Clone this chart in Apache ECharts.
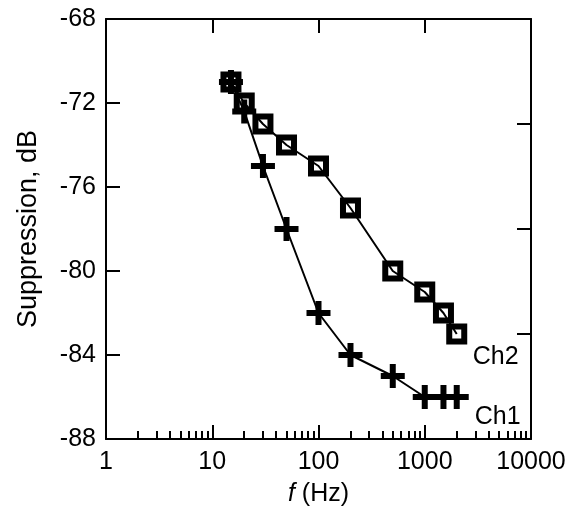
<!DOCTYPE html>
<html>
<head>
<meta charset="utf-8">
<title>Suppression vs frequency</title>
<script src="https://cdn.jsdelivr.net/npm/echarts@6/dist/echarts.min.js"></script>
<style>
  html, body { margin: 0; padding: 0; background: #fff; }
  #chart { width: 576px; height: 512px; }
</style>
</head>
<body>
<div id="chart"></div>
<script>
// 数据
var freqCh1 = [15, 20, 30, 50, 100, 200, 500, 1000, 1500, 2000];
var supCh1  = [-71, -72.4, -75, -78, -82, -84, -85, -86, -86, -86];

var freqCh2 = [15, 20, 30, 50, 100, 200, 500, 1000, 1500, 2000];
var supCh2  = [-71, -72, -73, -74, -75, -77, -80, -81, -82, -83];

// 坐标轴刻度
var xMajorTicks = [1, 10, 100, 1000, 10000];
var xMinorTicks = [2, 3, 4, 5, 6, 7, 8, 9, 20, 30, 40, 50, 60, 70, 80, 90,
  200, 300, 400, 500, 600, 700, 800, 900, 2000, 3000, 4000, 5000, 6000, 7000, 8000, 9000];
var yLeftTicks = [-88, -84, -80, -76, -72, -68];

var FONT = '"Liberation Sans", Arial, Helvetica, sans-serif';

function pairs(xs, ys) {
  return xs.map(function (x, i) { return [x, ys[i]]; });
}

var plusPath = 'path://M3,0H5V3H8V5H5V8H3V5H0V3H3Z';

var chart = echarts.init(document.getElementById('chart'), null, { renderer: 'canvas' });

var axisLine = { show: true, lineStyle: { color: '#000', width: 2 } };

var option = {
  animation: false,
  backgroundColor: '#fff',
  grid: { left: 106, right: 45, top: 19, bottom: 71, containLabel: false },
  xAxis: [
    {
      type: 'log', logBase: 10, min: 1, max: 10000, position: 'bottom',
      axisLine: axisLine,
      axisTick: { show: true, inside: true, length: 14, lineStyle: { color: '#000', width: 2 },
        customValues: xMajorTicks },
      axisLabel: { color: '#000', fontFamily: FONT, fontSize: 25, margin: 11,
        customValues: xMajorTicks,
        formatter: function (v) { return String(Math.round(v)); } },
      splitLine: { show: false },
      name: '{i|f} (Hz)', nameLocation: 'middle', nameGap: 43,
      nameTextStyle: { color: '#000', fontFamily: FONT, fontSize: 25,
        rich: { i: { fontStyle: 'italic', fontFamily: FONT, fontSize: 25, color: '#000' } } }
    },
    {
      // 底部次刻度
      type: 'log', logBase: 10, min: 1, max: 10000, position: 'bottom',
      axisLine: { show: false },
      axisTick: { show: true, inside: true, length: 8, lineStyle: { color: '#000', width: 2 },
        customValues: xMinorTicks },
      axisLabel: { show: false },
      splitLine: { show: false }
    },
    {
      // 顶部边框
      type: 'log', logBase: 10, min: 1, max: 10000, position: 'top',
      axisLine: axisLine,
      axisTick: { show: true, inside: true, length: 14, lineStyle: { color: '#000', width: 2 },
        customValues: xMajorTicks },
      axisLabel: { show: false },
      splitLine: { show: false }
    }
  ],
  yAxis: [
    {
      type: 'value', min: -88, max: -68, interval: 4, position: 'left',
      axisLine: axisLine,
      axisTick: { show: true, inside: true, length: 14, lineStyle: { color: '#000', width: 2 },
        customValues: yLeftTicks },
      axisLabel: { color: '#000', fontFamily: FONT, fontSize: 25, margin: 10,
        customValues: yLeftTicks },
      splitLine: { show: false },
      name: 'Suppression, dB', nameLocation: 'middle', nameGap: 64, nameRotate: 90,
      nameTextStyle: { color: '#000', fontFamily: FONT, fontSize: 27 }
    },
    {
      // 右侧边框，刻度间隔 5
      type: 'value', min: -88, max: -68, interval: 5, position: 'right',
      axisLine: axisLine,
      axisTick: { show: true, inside: true, length: 14, lineStyle: { color: '#000', width: 2 } },
      axisLabel: { show: false },
      splitLine: { show: false }
    }
  ],
  series: [
    {
      name: 'Ch1', type: 'line', xAxisIndex: 0, yAxisIndex: 0,
      data: pairs(freqCh1, supCh1),
      symbol: plusPath, symbolSize: 24,
      lineStyle: { color: '#000', width: 2 },
      itemStyle: { color: '#000', borderWidth: 0 },
      endLabel: { show: true, formatter: 'Ch1', color: '#000', fontFamily: FONT, fontSize: 25,
        offset: [10, 20] }
    },
    {
      name: 'Ch2', type: 'line', xAxisIndex: 0, yAxisIndex: 0,
      data: pairs(freqCh2, supCh2),
      symbol: 'rect', symbolSize: 15,
      lineStyle: { color: '#000', width: 2 },
      itemStyle: { color: 'rgba(0,0,0,0)', borderColor: '#000', borderWidth: 6 },
      endLabel: { show: true, formatter: 'Ch2', color: '#000', fontFamily: FONT, fontSize: 25,
        offset: [8, 23] }
    }
  ]
};

chart.setOption(option);
</script>
</body>
</html>
